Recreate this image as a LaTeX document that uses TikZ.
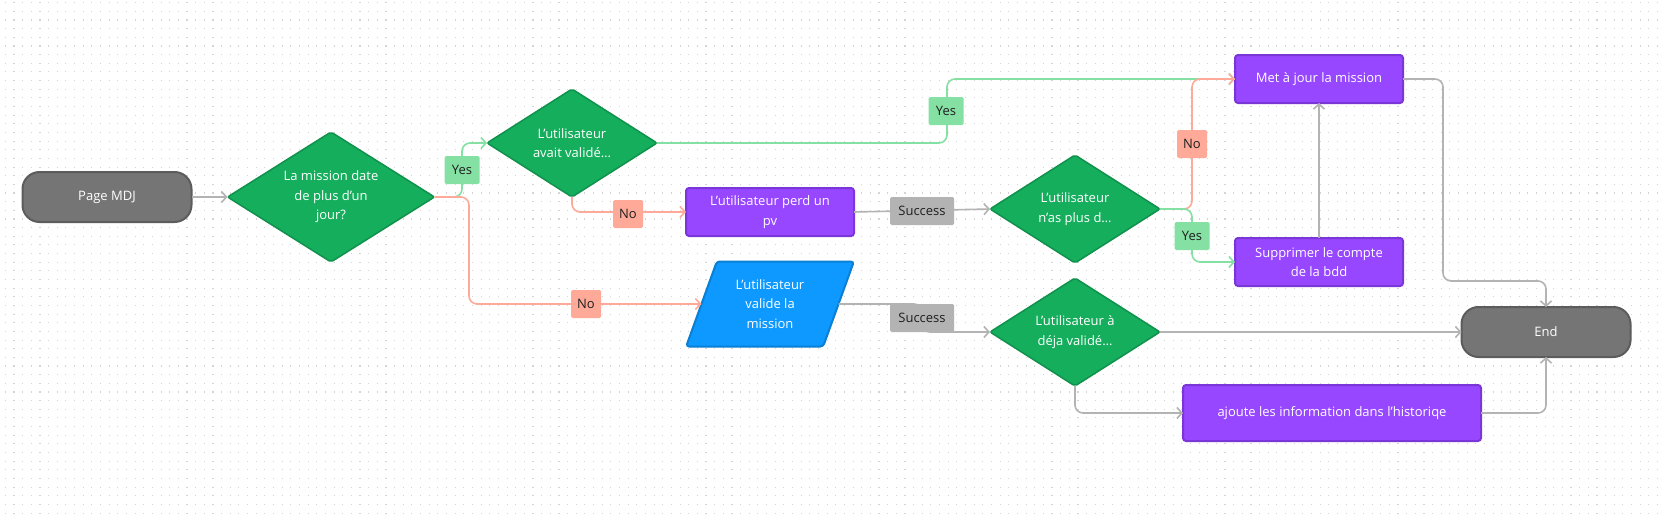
\documentclass[tikz,border=0pt]{standalone}
\usepackage{fontspec}
\setmainfont{Open Sans}
\usetikzlibrary{shapes.geometric,arrows.meta}
\definecolor{termfill}{HTML}{757575}
\definecolor{termline}{HTML}{5C5C5C}
\definecolor{testfill}{HTML}{14AE5C}
\definecolor{testline}{HTML}{10914C}
\definecolor{actfill}{HTML}{9747FF}
\definecolor{actline}{HTML}{7A36D6}
\definecolor{iofill}{HTML}{0D99FF}
\definecolor{ioline}{HTML}{0A7FD4}
\definecolor{yescol}{HTML}{85E0A3}
\definecolor{nocol}{HTML}{FFAA99}
\definecolor{linkcol}{HTML}{B3B3B3}
\definecolor{lbltext}{HTML}{1E1E1E}
\newcommand{\mdjfont}{\fontsize{13}{19.5}\selectfont}

\begin{document}
\begin{tikzpicture}[x=1pt,y=-1pt,inner sep=0pt,outer sep=0pt,line width=1.6pt,
>={Straight Barb[length=5pt,width=11pt]},
termblock/.style={draw=termline,fill=termfill,rectangle,rounded corners=17pt,minimum width=169pt,minimum height=50pt,text=white,font=\mdjfont,line width=2pt},
testblock/.style={draw=testline,fill=testfill,diamond,rounded corners=2pt,shape aspect=1.6,minimum width=170pt,minimum height=108pt,text=white,font=\mdjfont,align=center,line width=1.5pt},
actblock/.style={draw=actline,fill=actfill,rectangle,rounded corners=3pt,minimum width=168pt,minimum height=48pt,text=white,font=\mdjfont,align=center,line width=2pt},
ioblock/.style={draw=ioline,fill=iofill,trapezium,trapezium left angle=68,trapezium right angle=112,trapezium stretches=true,rounded corners=3pt,minimum width=168pt,minimum height=85pt,text=white,font=\mdjfont,align=center,line width=2pt},
lbl/.style={rectangle,rounded corners=1.5pt,minimum height=28pt,text=lbltext,font=\mdjfont},
yeslbl/.style={lbl,fill=yescol,minimum width=35pt},
nolbl/.style={lbl,fill=nocol,minimum width=30pt},
oklbl/.style={lbl,fill=linkcol,minimum width=64pt},
yeslink/.style={draw=yescol,rounded corners=8pt,->},
nolink/.style={draw=nocol,rounded corners=8pt,->},
graylink/.style={draw=linkcol,rounded corners=8pt,->},
griddot/.style={draw=black!17,line width=1.1pt,dash pattern=on 1.1pt off 7.55pt}]

\fill[white] (0,0) rectangle (1662,514);
\useasboundingbox (0,0) rectangle (1662,514);
\foreach \k in {0,...,59}
  \draw[griddot] (4.8,2.7+8.65*\k) -- (1662,2.7+8.65*\k);

% blocks
\draw (107,197) node[termblock] (page) {Page MDJ};
\draw (331,197) node[testblock,minimum width=207pt,minimum height=130pt] (date) {La mission date\\de plus d’un\\jour?};
\draw (572,143) node[testblock] (avait) {L’utilisateur\\avait validé…};
\draw (770,212) node[actblock] (perd) {L’utilisateur perd un\\pv};
\draw (770,304) node[ioblock] (valide) {L’utilisateur\\valide la\\mission};
\draw (1075,209) node[testblock] (plus) {L’utilisateur\\n’as plus d…};
\draw (1075,332) node[testblock] (deja) {L’utilisateur à\\déja validé…};
\draw (1319,79) node[actblock] (maj) {Met à jour la mission};
\draw (1319,262) node[actblock] (suppr) {Supprimer le compte\\de la bdd};
\draw (1546,332) node[termblock] (fin) {End};
\draw (1332,413) node[actblock,minimum width=298pt,minimum height=56pt] (histo) {ajoute les information dans l’historiqe};

% links
\draw[graylink] (page.east) -- (date.west);
\draw[yeslink] (date.east) -- (462,197) |- (avait.west);
\draw[nolink] (date.east) -- (469,197) |- (valide.west);
\draw[nolink] (avait.south) |- (perd.west);
\draw[yeslink] (avait.east) -- (947,143) |- (maj.west);
\draw[graylink] (perd.east) -- (plus.west);
\draw[graylink] (valide.east) -- (922,304) |- (deja.west);
\draw[nolink] (plus.east) -- (1192,209) |- (maj.west);
\draw[yeslink] (plus.east) -- (1192,209) |- (suppr.west);
\draw[graylink] (suppr.north) -- (maj.south);
\draw[graylink] (maj.east) -| (1443,281) -| (fin.north);
\draw[graylink] (deja.east) -- (fin.west);
\draw[graylink] (deja.south) |- (histo.west);
\draw[graylink] (histo.east) -| (fin.south);

% labels
\draw (462,170) node[yeslbl] (yes1) {Yes};
\draw (586,304) node[nolbl] (no1) {No};
\draw (628,214) node[nolbl] (no2) {No};
\draw (946,111) node[yeslbl] (yes2) {Yes};
\draw (922,211) node[oklbl] (ok1) {Success};
\draw (922,318) node[oklbl] (ok2) {Success};
\draw (1192,144) node[nolbl] (no3) {No};
\draw (1192,236) node[yeslbl] (yes3) {Yes};
\end{tikzpicture}
\end{document}
